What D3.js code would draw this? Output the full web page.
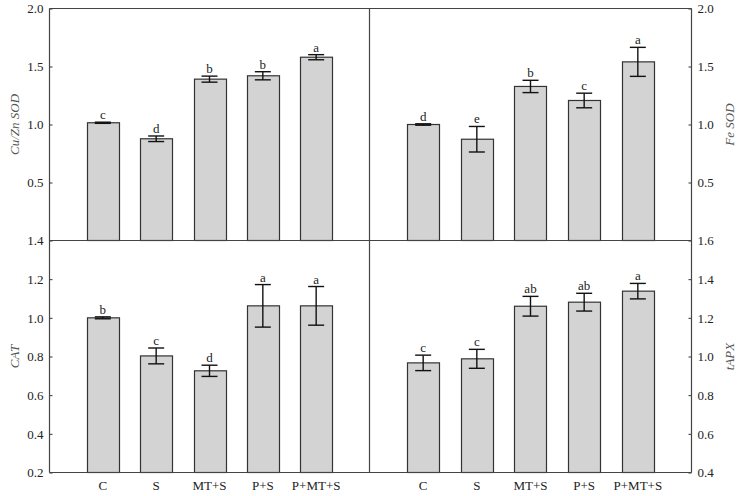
<!DOCTYPE html>
<html>
<head>
<meta charset="utf-8">
<script src="https://cdn.jsdelivr.net/npm/d3@7"></script>
<style>
  body { margin: 0; background: #fff; }
  svg { display: block; }
  svg text { font-family: "Times New Roman", Times, "Liberation Serif", serif !important; }
</style>
</head>
<body>
<script>
// treatments
var categories = ["C", "S", "MT+S", "P+S", "P+MT+S"];

// Cu/Zn SOD
var cuznMean = [1.015, 0.877, 1.391, 1.420, 1.580];
var cuznErr  = [0.005, 0.024, 0.026, 0.035, 0.022];
var cuznLetters = ["c", "d", "b", "b", "a"];

// Fe SOD
var feMean = [1.000, 0.873, 1.328, 1.207, 1.540];
var feErr  = [0.006, 0.110, 0.053, 0.063, 0.125];
var feLetters = ["d", "e", "b", "c", "a"];

// CAT
var catMean = [1.000, 0.803, 0.726, 1.062, 1.062];
var catErr  = [0.005, 0.041, 0.029, 0.110, 0.100];
var catLetters = ["b", "c", "d", "a", "a"];

// tAPX
var apxMean = [0.967, 0.988, 1.260, 1.281, 1.338];
var apxErr  = [0.040, 0.049, 0.051, 0.046, 0.040];
var apxLetters = ["c", "c", "ab", "ab", "a"];

var topTicks = [0.5, 1.0, 1.5, 2.0];
var catTicks = [0.2, 0.4, 0.6, 0.8, 1.0, 1.2, 1.4];
var apxTicks = [0.4, 0.6, 0.8, 1.0, 1.2, 1.4, 1.6];

var W = 737, H = 496;
var xL = 49.5, xM = 369.5, xR = 691.5;
var yT = 8.5, yM = 240.5, yB = 472.5;

var svg = d3.select('body').append('svg')
  .attr('width', W)
  .attr('height', H);

function panel(opt){
  var x = d3.scalePoint().domain(categories).range(opt.xr).padding(1);
  var y = d3.scaleLinear().domain(opt.dom).range(opt.yr);
  var bw = x.step() * 0.6;
  var cap = 16;
  var g = svg.append('g');

  var data = categories.map(function(c, i){
    return {cat: c, m: opt.mean[i], e: opt.err[i], l: opt.letters[i]};
  });

  g.selectAll('rect.bar')
    .data(data)
    .enter()
    .append('rect')
      .attr('class', 'bar')
      .attr('x', function(d){ return Math.round(x(d.cat) - bw/2) + 0.5; })
      .attr('y', function(d){ return y(d.m); })
      .attr('width', Math.round(bw))
      .attr('height', function(d){ return y(opt.dom[0]) - y(d.m); })
      .style('fill', '#d3d3d3')
      .style('stroke', '#333')
      .style('stroke-width', 1.2);

  // error bars
  var eb = g.selectAll('g.err')
    .data(data)
    .enter()
    .append('g');
  eb.append('line')
    .attr('x1', function(d){ return x(d.cat); })
    .attr('x2', function(d){ return x(d.cat); })
    .attr('y1', function(d){ return y(d.m + d.e); })
    .attr('y2', function(d){ return y(d.m - d.e); });
  eb.append('line')
    .attr('x1', function(d){ return x(d.cat) - cap/2; })
    .attr('x2', function(d){ return x(d.cat) + cap/2; })
    .attr('y1', function(d){ return y(d.m + d.e); })
    .attr('y2', function(d){ return y(d.m + d.e); });
  eb.append('line')
    .attr('x1', function(d){ return x(d.cat) - cap/2; })
    .attr('x2', function(d){ return x(d.cat) + cap/2; })
    .attr('y1', function(d){ return y(d.m - d.e); })
    .attr('y2', function(d){ return y(d.m - d.e); });
  eb.selectAll('line')
    .style('stroke', '#111')
    .style('stroke-width', 1.4);

  // letters
  g.selectAll('text.lt')
    .data(data)
    .enter()
    .append('text')
      .attr('x', function(d){ return x(d.cat); })
      .attr('y', function(d){ return y(d.m + d.e) - 3; })
      .attr('text-anchor', 'middle')
      .style('font-size', '13px')
      .style('fill', '#222')
      .text(function(d){ return d.l; });

  // y axis
  var ax = opt.side == 'left' ? d3.axisLeft(y) : d3.axisRight(y);
  ax.tickValues(opt.ticks).tickSize(-3).tickPadding(6).tickFormat(d3.format('.1f'));
  var axg = g.append('g')
    .attr('transform', 'translate(' + (opt.side == 'left' ? opt.xr[0] : opt.xr[1]) + ',0)')
    .call(ax);
  axg.select('.domain').remove();
  axg.selectAll('.tick line').style('stroke', '#333');
  axg.selectAll('.tick text')
    .style('font-size', '13px')
    .style('fill', '#222');

  // axis title
  var tx = opt.side == 'left' ? 14 : 729;
  var ty = (opt.yr[0] + opt.yr[1]) / 2;
  svg.append('text')
    .attr('transform', 'translate(' + tx + ',' + ty + ') rotate(-90)')
    .attr('text-anchor', 'middle')
    .attr('dy', '0.35em')
    .style('font-size', '13px')
    .style('font-style', 'italic')
    .style('fill', '#555')
    .text(opt.title);

  if(opt.xlabels){
    g.selectAll('text.xl')
      .data(categories)
      .enter()
      .append('text')
        .attr('x', function(d){ return x(d); })
        .attr('y', 490)
        .attr('text-anchor', 'middle')
        .style('font-size', '13px')
        .style('fill', '#222')
        .text(function(d){ return d; });
  }
}

panel({xr: [xL, xM], yr: [yM, yT], dom: [0, 2], mean: cuznMean, err: cuznErr, letters: cuznLetters,
  ticks: topTicks, side: 'left', title: 'Cu/Zn SOD'});
panel({xr: [xM, xR], yr: [yM, yT], dom: [0, 2], mean: feMean, err: feErr, letters: feLetters,
  ticks: topTicks, side: 'right', title: 'Fe SOD'});
panel({xr: [xL, xM], yr: [yB, yM], dom: [0.2, 1.4], mean: catMean, err: catErr, letters: catLetters,
  ticks: catTicks, side: 'left', title: 'CAT', xlabels: true});
panel({xr: [xM, xR], yr: [yB, yM], dom: [0.4, 1.6], mean: apxMean, err: apxErr, letters: apxLetters,
  ticks: apxTicks, side: 'right', title: 'tAPX', xlabels: true});

// frame lines
var frame = [
  [xL, yT, xR, yT],
  [xL, yM, xR, yM],
  [xL, yB, xR, yB],
  [xL, yT, xL, yB],
  [xM, yT, xM, yB],
  [xR, yT, xR, yB]
];
svg.selectAll('line.frame')
  .data(frame)
  .enter()
  .append('line')
    .attr('x1', function(d){ return d[0]; })
    .attr('y1', function(d){ return d[1]; })
    .attr('x2', function(d){ return d[2]; })
    .attr('y2', function(d){ return d[3]; })
    .style('stroke', '#444')
    .style('stroke-width', 1.2);
</script>
</body>
</html>
